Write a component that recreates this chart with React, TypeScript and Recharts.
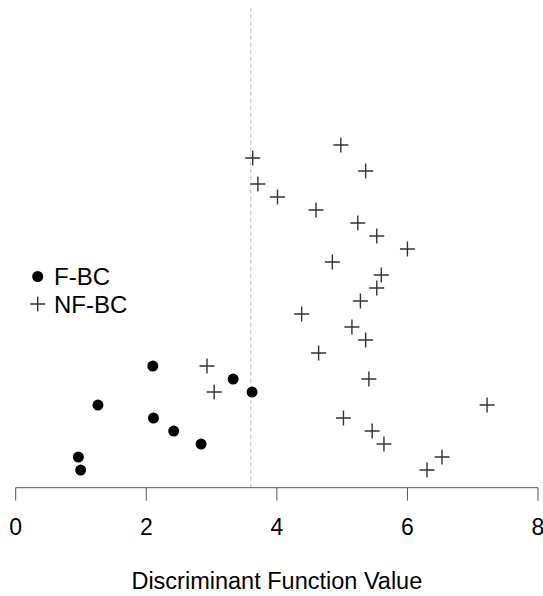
import { ScatterChart, Scatter, XAxis, YAxis, ReferenceLine, Legend } from 'recharts'

// F-BC (filled dots): discriminant score and plotting rank
const fbcScore = [0.995, 0.96, 2.84, 2.42, 2.11, 1.26, 3.62, 3.33, 2.1]
const fbcRank = [1, 2, 3, 4, 5, 6, 7, 8, 9]

// NF-BC (crosses)
const nfbcScore = [
  6.3, 6.53, 5.64, 5.46, 5.02, 7.22, 3.04, 5.41, 2.93, 4.64, 5.36, 5.15, 4.38,
  5.28, 5.53, 5.6, 4.85, 6.0, 5.53, 5.24, 4.6, 4.01, 3.71, 5.36, 3.63, 4.98,
]
const nfbcRank = [
  1, 2, 3, 4, 5, 6, 7, 8, 9, 10, 11, 12, 13, 14, 15, 16, 17, 18, 19, 20, 21, 22,
  23, 24, 25, 26,
]

const xTicks = [0, 2, 4, 6, 8]
const cutoff = 3.6

const fbcData = fbcScore.map((x, i) => ({ x, y: fbcRank[i] }))
const nfbcData = nfbcScore.map((x, i) => ({ x, y: nfbcRank[i] }))

const font = 'Arial, "Liberation Sans", sans-serif'

function Dot(props: any) {
  const { cx, cy } = props
  return <circle cx={cx} cy={cy} r={5.5} fill="#000" />
}

function Cross(props: any) {
  const { cx, cy } = props
  const s = 7.5
  return (
    <path
      d={`M${cx - s},${cy}H${cx + s}M${cx},${cy - s}V${cy + s}`}
      stroke="#333"
      strokeWidth={1.4}
      fill="none"
    />
  )
}

function LegendBox() {
  return (
    <svg width={160} height={70} style={{ display: 'block' }}>
      <circle cx={37.7} cy={26.5} r={5.5} fill="#000" />
      <text x={54} y={35} fontSize={24} fontFamily={font} fill="#000">
        F-BC
      </text>
      <path d="M30.2,54H45.2M37.7,46.5V61.5" stroke="#333" strokeWidth={1.4} />
      <text x={54} y={62.5} fontSize={24} fontFamily={font} fill="#000">
        NF-BC
      </text>
    </svg>
  )
}

export default function App() {
  return (
    <div style={{ position: 'absolute', left: 0, top: 0, background: '#fff' }}>
      <ScatterChart
        width={543}
        height={596}
        margin={{ top: 8, right: 5, bottom: 0, left: 15.7 }}
      >
        <XAxis
          type="number"
          dataKey="x"
          domain={[0, 8]}
          ticks={xTicks}
          interval={0}
          height={108.3}
          stroke="#555"
          tickSize={13}
          tickMargin={18}
          tick={{ fill: '#000', fontSize: 23, fontFamily: font }}
          label={{
            value: 'Discriminant Function Value',
            position: 'insideBottom',
            offset: 7,
            fill: '#000',
            fontSize: 23.5,
            fontFamily: font,
          }}
        />
        <YAxis type="number" dataKey="y" hide domain={[-0.36, 36.54]} />
        <ReferenceLine x={cutoff} stroke="#bbb" strokeDasharray="4 3" />
        <Legend
          layout="horizontal"
          verticalAlign="middle"
          align="center"
          wrapperStyle={{ left: 0, top: 250, width: 160, height: 70 }}
          content={() => <LegendBox />}
        />
        <Scatter name="F-BC" data={fbcData} shape={Dot} isAnimationActive={false} />
        <Scatter name="NF-BC" data={nfbcData} shape={Cross} isAnimationActive={false} />
      </ScatterChart>
    </div>
  )
}
